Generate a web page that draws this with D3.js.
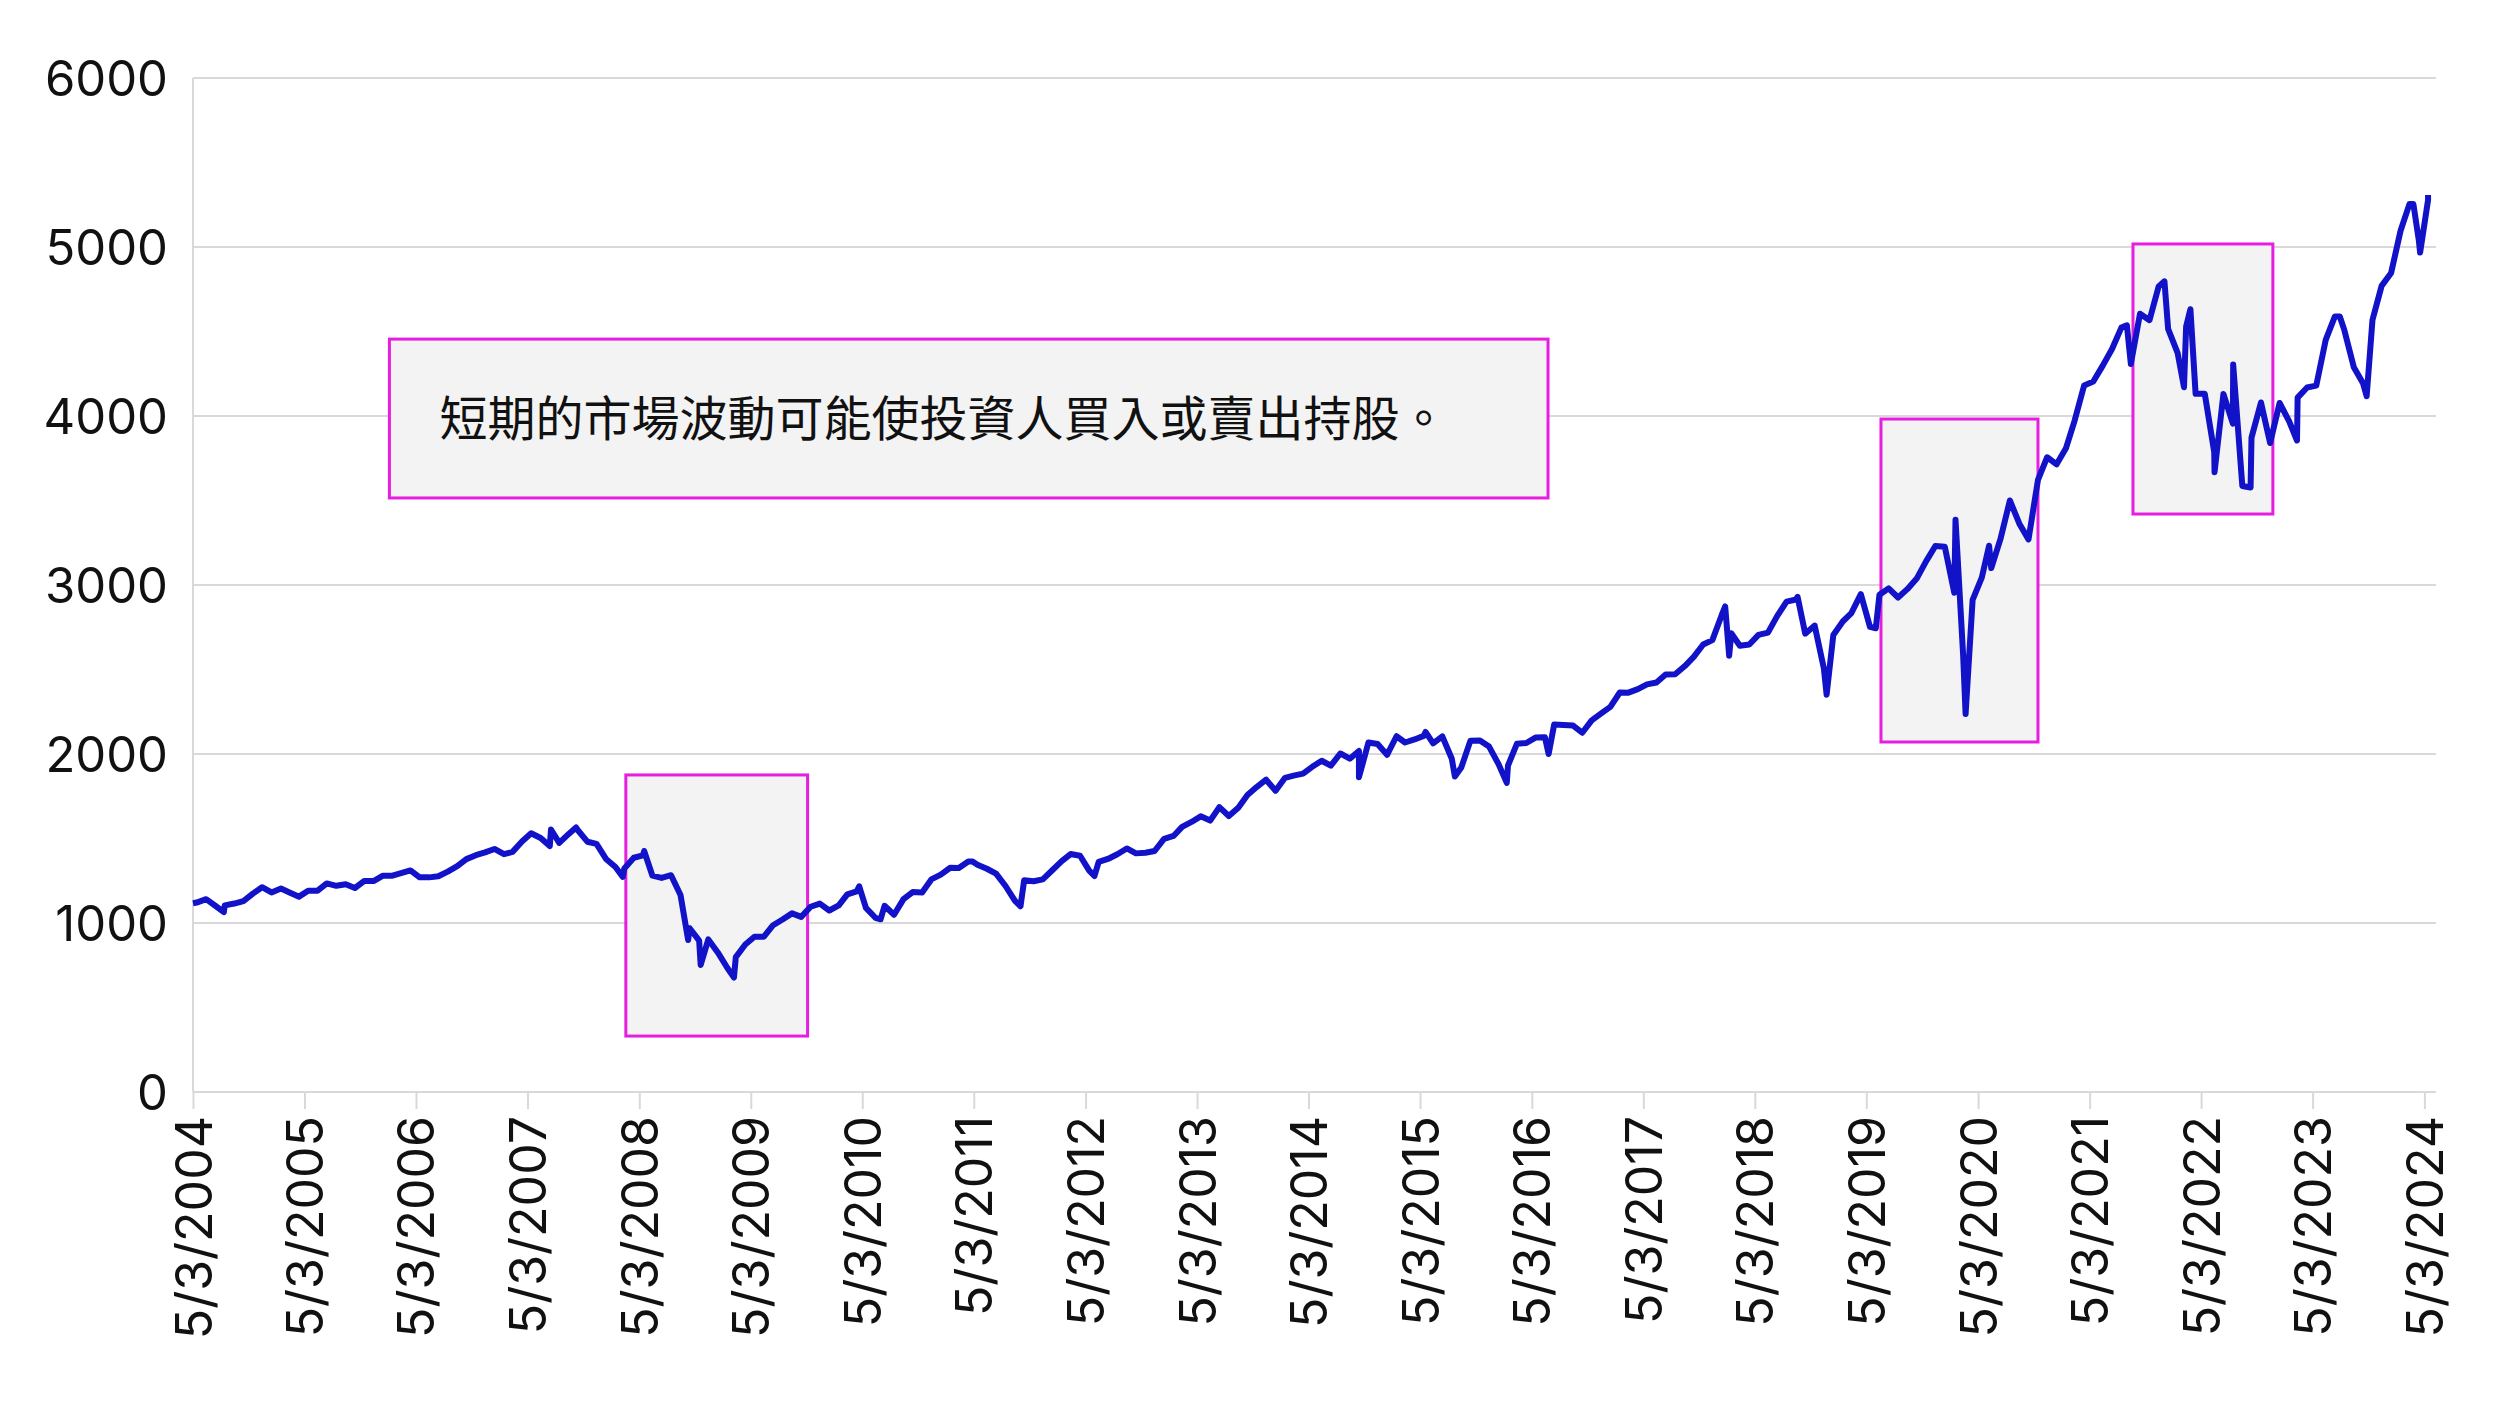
<!DOCTYPE html>
<html>
<head>
<meta charset="utf-8">
<script src="https://cdn.jsdelivr.net/npm/d3@7"></script>
<style>
  body { margin: 0; background: #fff; }
  text { font-family: Inter, Roboto, "Noto Sans", sans-serif; }
</style>
</head>
<body>
<div id="graph"></div>
<script>
    // monthly closes, one array per year (first value = month in startMonth)
    const years = [2004, 2005, 2006, 2007, 2008, 2009, 2010, 2011, 2012, 2013, 2014,
                   2015, 2016, 2017, 2018, 2019, 2020, 2021, 2022, 2023, 2024];
    const monthly = [
        [1121, 1141, 1102, 1104, 1115, 1130, 1174, 1212],
        [1181, 1204, 1181, 1156, 1191, 1191, 1234, 1220, 1229, 1207, 1249, 1248],
        [1280, 1280, 1295, 1311, 1270, 1270, 1277, 1304, 1336, 1378, 1401, 1418],
        [1438, 1407, 1421, 1482, 1531, 1503, 1455, 1474, 1527, 1549, 1481, 1468],
        [1379, 1331, 1323, 1386, 1400, 1280, 1267, 1283, 1166, 969, 896, 903],
        [826, 735, 798, 873, 919, 919, 987, 1021, 1057, 1036, 1096, 1115],
        [1074, 1104, 1169, 1187, 1089, 1031, 1102, 1049, 1141, 1183, 1181, 1258],
        [1286, 1327, 1326, 1364, 1345, 1321, 1292, 1219, 1131, 1253, 1247, 1258],
        [1312, 1366, 1408, 1398, 1310, 1362, 1379, 1407, 1441, 1412, 1416, 1426],
        [1498, 1515, 1569, 1598, 1631, 1606, 1686, 1633, 1682, 1757, 1806, 1848],
        [1783, 1859, 1872, 1884, 1924, 1960, 1931, 2003, 1972, 2018, 2068, 2059],
        [1995, 2105, 2068, 2086, 2107, 2063, 2104, 1972, 1920, 2079, 2080, 2044],
        [1940, 1932, 2060, 2065, 2097, 2099, 2174, 2171, 2168, 2126, 2199, 2239],
        [2279, 2364, 2363, 2384, 2412, 2423, 2470, 2472, 2519, 2575, 2648, 2674],
        [2824, 2714, 2641, 2648, 2705, 2718, 2816, 2902, 2914, 2712, 2760, 2507],
        [2704, 2784, 2834, 2946, 2752, 2942, 2980, 2926, 2977, 3038, 3141, 3231],
        [3226, 2954, 2585, 2912, 3044, 3100, 3271, 3500, 3363, 3270, 3622, 3756],
        [3714, 3811, 3973, 4181, 4204, 4298, 4395, 4523, 4308, 4605, 4567, 4766],
        [4516, 4374, 4530, 4132, 4132, 3785, 4130, 3955, 3586, 3872, 4080, 3840],
        [4077, 3970, 4109, 4169, 4180, 4450, 4589, 4508, 4288, 4194, 4568, 4770],
        [4846, 5096, 5254, 5036, 5278]
    ];
    // intra-month highs and lows visible as spikes
    const spikeDates = ['2004-05-03', '2004-08-12', '2007-07-19', '2007-10-09', '2008-03-10', '2008-05-19',
                        '2008-10-10', '2008-11-20', '2009-03-09', '2010-04-23', '2010-07-02',
                        '2011-04-29', '2011-10-03', '2012-06-01', '2014-10-15', '2015-05-21',
                        '2015-08-25', '2016-02-11', '2016-06-27', '2018-01-26', '2018-02-08',
                        '2018-09-20', '2018-12-24', '2019-06-03', '2020-02-19', '2020-03-23',
                        '2020-06-08', '2021-09-02', '2022-01-03', '2022-03-08', '2022-03-29',
                        '2022-06-16', '2022-08-16', '2022-10-12', '2023-03-13', '2023-07-31',
                        '2023-10-27', '2024-03-28', '2024-04-19', '2024-05-15'];
    const spikeValues = [1117, 1064, 1553, 1565, 1273, 1426,
                         899, 752, 677, 1217, 1022,
                         1364, 1099, 1278, 1862, 2131,
                         1867, 1829, 2000, 2873, 2581,
                         2930, 2351, 2744, 3386, 2237,
                         3232, 4537, 4797, 4170, 4632,
                         3667, 4305, 3577, 3855, 4589,
                         4117, 5254, 4967, 5308];

    const yTicks = [0, 1000, 2000, 3000, 4000, 5000, 6000];
    const tickYears = d3.range(2004, 2025);

    // highlighted periods: [start date, end date, low value, high value]
    const boxStarts = ['2008-03-20', '2019-06-20', '2021-09-22'];
    const boxEnds = ['2009-11-05', '2020-11-15', '2022-12-24'];
    const boxLows = [331, 2071, 3420];
    const boxHighs = [1876, 3982, 5018];

    const note = '短期的市場波動可能使投資人買入或賣出持股。';
    const noteBox = ['2006-02-05', '2016-06-25', 3515, 4455];

    const parse = d3.timeParse('%Y-%m-%d');
    const dataset = [];
    years.forEach(function (yr, i) {
        const startMonth = yr === 2004 ? 4 : 0;
        monthly[i].forEach(function (v, j) {
            dataset.push({date: new Date(yr, startMonth + j, 15), value: v});
        });
    });
    spikeDates.forEach(function (d, i) {
        dataset.push({date: parse(d), value: spikeValues[i]});
    });
    dataset.sort((a, b) => a.date - b.date);

    const w = 2496;
    const h = 1404;
    const padding = {top: 78, right: 60, bottom: 312, left: 193};
    const magenta = '#e61ee0';
    const lineBlue = '#1212c8';
    const grey = '#d9d9d9';

    const anchor = d3.select('#graph')
        .append('svg')
        .attr('width', w)
        .attr('height', h);

    const xScale = d3.scaleTime()
        .domain([parse('2004-05-03'), parse('2024-06-10')])
        .range([padding.left, w - padding.right]);

    const yScale = d3.scaleLinear()
        .domain([0, 6000])
        .range([h - padding.bottom, padding.top]);

    // gridlines
    anchor.append('g')
        .selectAll('line')
        .data(yTicks)
        .enter()
        .append('line')
        .attr('x1', padding.left)
        .attr('x2', w - padding.right)
        .attr('y1', (d) => yScale(d))
        .attr('y2', (d) => yScale(d))
        .attr('stroke', grey)
        .attr('stroke-width', 2);

    anchor.append('line')
        .attr('x1', padding.left).attr('x2', padding.left)
        .attr('y1', yScale(6000)).attr('y2', yScale(0))
        .attr('stroke', grey).attr('stroke-width', 2);

    // y labels
    anchor.append('g')
        .selectAll('text')
        .data(yTicks)
        .enter()
        .append('text')
        .attr('x', 168)
        .attr('y', (d) => yScale(d))
        .attr('dy', '0.36em')
        .attr('text-anchor', 'end')
        .style('font-size', '49px')
        .attr('fill', '#111')
        .text((d) => d);

    // x axis
    const tickDates = tickYears.map((y) => new Date(y, 4, 3));
    const xAxis = d3.axisBottom(xScale)
        .tickValues(tickDates)
        .tickSize(17)
        .tickFormat(d3.timeFormat('%-m/%-d/%Y'));

    const gx = anchor.append('g')
        .attr('transform', 'translate(0,' + yScale(0) + ')')
        .call(xAxis);
    gx.select('.domain').remove();
    gx.selectAll('.tick line').attr('stroke', grey).attr('stroke-width', 2);
    gx.selectAll('.tick text')
        .attr('transform', 'rotate(-90)')
        .attr('x', -24)
        .attr('y', 0)
        .attr('dy', '0.36em')
        .attr('text-anchor', 'end')
        .attr('fill', '#111')
        .style('font-size', '50px')
        .style('font-family', 'Inter, Roboto, sans-serif');

    // highlight boxes
    anchor.append('g')
        .selectAll('rect')
        .data(boxStarts)
        .enter()
        .append('rect')
        .attr('x', (d) => xScale(parse(d)))
        .attr('y', (d, i) => yScale(boxHighs[i]))
        .attr('width', (d, i) => xScale(parse(boxEnds[i])) - xScale(parse(d)))
        .attr('height', (d, i) => yScale(boxLows[i]) - yScale(boxHighs[i]))
        .attr('fill', '#f3f3f3')
        .attr('stroke', magenta)
        .attr('stroke-width', 3);

    // line
    const line = d3.line()
        .x((d) => xScale(d.date))
        .y((d) => yScale(d.value));

    anchor.append('path')
        .datum(dataset)
        .attr('d', line)
        .attr('fill', 'none')
        .attr('stroke', lineBlue)
        .attr('stroke-width', 6)
        .attr('stroke-linejoin', 'round');

    // note box
    const nx0 = xScale(parse(noteBox[0]));
    const nx1 = xScale(parse(noteBox[1]));
    anchor.append('rect')
        .attr('x', nx0)
        .attr('y', yScale(noteBox[3]))
        .attr('width', nx1 - nx0)
        .attr('height', yScale(noteBox[2]) - yScale(noteBox[3]))
        .attr('fill', '#f3f3f3')
        .attr('stroke', magenta)
        .attr('stroke-width', 3);

    anchor.append('text')
        .attr('x', nx0 + 50)
        .attr('y', (yScale(noteBox[2]) + yScale(noteBox[3])) / 2)
        .attr('dy', '0.36em')
        .style('font-family', '"Noto Sans CJK TC", sans-serif')
        .style('font-size', '48px')
        .attr('fill', '#111')
        .text(note);
</script>
</body>
</html>
